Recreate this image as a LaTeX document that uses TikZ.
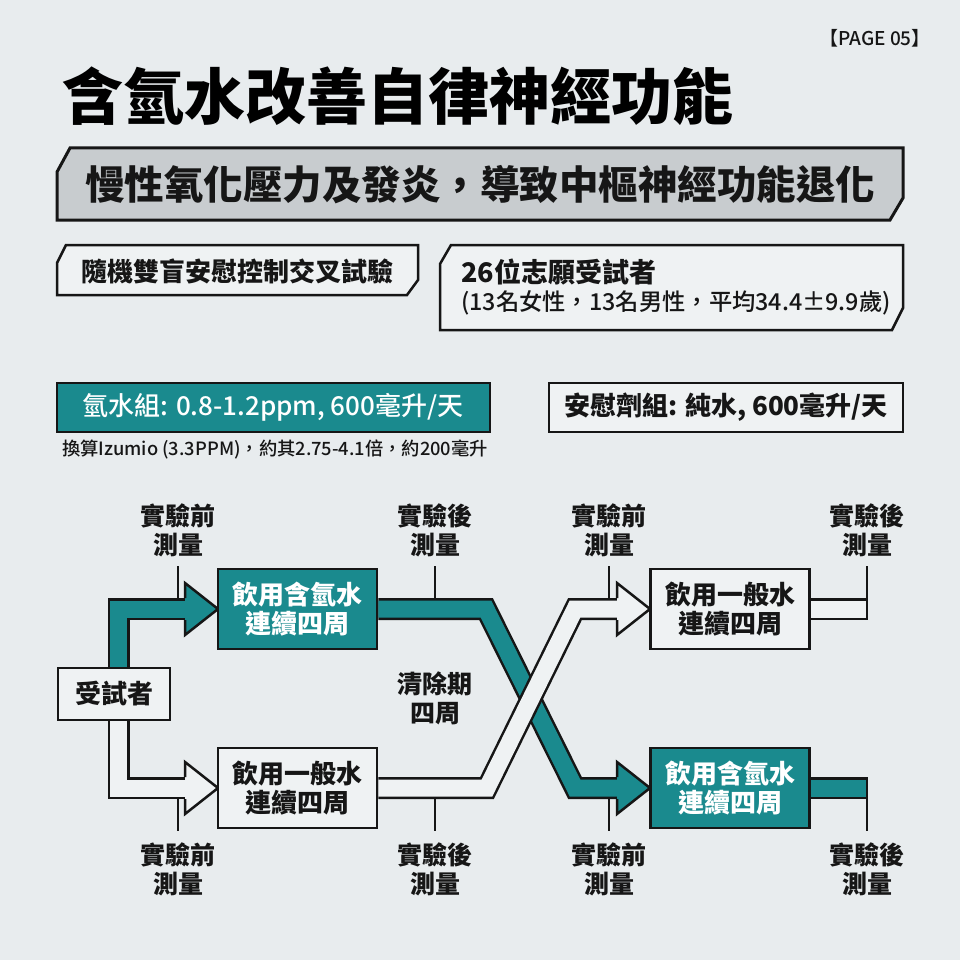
\documentclass[tikz,border=0pt]{standalone}
\usepackage{fontspec}
\setmainfont{Noto Sans CJK TC}
\newfontfamily\heavyfont{Noto Sans CJK TC Black}
\newfontfamily\medfont{Noto Sans CJK TC Medium}
\usetikzlibrary{calc}
\definecolor{bgc}{HTML}{E8ECEE}
\definecolor{tealc}{HTML}{1A8A8E}
\definecolor{ink}{HTML}{161616}
\definecolor{boxfill}{HTML}{EFF2F3}
\definecolor{subfill}{HTML}{C8CCCF}
\tikzset{
  outl/.style={draw=ink, line width=2.5pt, line join=miter},
  wbox/.style={outl, fill=boxfill, minimum width=159pt, minimum height=80pt, inner sep=0pt, align=center, text=ink, font=\bfseries\fontsize{26}{29}\selectfont},
  tbox/.style={wbox, fill=tealc, text=white},
  lbl/.style={align=center, inner sep=0pt, text=ink, font=\bfseries\fontsize{25}{29}\selectfont},
  tband/.style={draw=tealc, line width=17pt, line join=miter, preaction={draw=ink, line width=22pt, line join=miter}},
  wband/.style={draw=boxfill, line width=17pt, line join=miter, preaction={draw=ink, line width=22pt, line join=miter}},
  mline/.style={draw=ink, line width=2.5pt},
}
\begin{document}
\begin{tikzpicture}[x=1pt,y=-1pt]
\fill[bgc] (0,0) rectangle (960,960);
\useasboundingbox (0,0) rectangle (960,960);

% header
\node[anchor=east, inner sep=0pt, text=ink, font=\medfont\fontsize{19}{19}\selectfont] (page) at (931,38) {【PAGE 05】};
\node[anchor=west, inner sep=0pt, text=black, font=\heavyfont\fontsize{61}{61}\selectfont] (title) at (62,96) {含氫水改善自律神經功能};

% subtitle
\filldraw[outl, fill=subfill, line width=3pt] (57,220) -- (57,172) -- (70,148) -- (903,148) -- (903,198) -- (890,220) -- cycle;
\node[inner sep=0pt, text=ink, font=\heavyfont\fontsize{39.5}{40}\selectfont] (sub) at (480,185) {慢性氧化壓力及發炎，導致中樞神經功能退化};

% info boxes
\filldraw[outl, fill=boxfill] (57,295) -- (57,263) -- (66,245) -- (418,245) -- (418,280) -- (407,295) -- cycle;
\node[inner sep=0pt, text=ink, font=\bfseries\fontsize{26}{26}\selectfont] (rct) at (237.5,271) {隨機雙盲安慰控制交叉試驗};
\filldraw[outl, fill=boxfill] (440,330) -- (440,264) -- (451,245) -- (903,245) -- (903,308) -- (892,330) -- cycle;
\node[anchor=west, inner sep=0pt, text=ink, font=\bfseries\fontsize{27}{27}\selectfont] (n26) at (461,272) {26位志願受試者};
\node[anchor=west, inner sep=0pt, text=ink, font=\medfont\fontsize{23.3}{24}\selectfont] (n26b) at (461,303) {(13名女性，13名男性，平均34.4±9.9歲)};

% groups
\filldraw[outl, fill=tealc] (57,383) rectangle (490,432);
\node[inner sep=0pt, text=white, font=\medfont\fontsize{26}{26}\selectfont] (hgrp) at (273,407) {氫水組: 0.8-1.2ppm, 600毫升/天};
\filldraw[outl, fill=boxfill] (549,383) rectangle (903,432);
\node[inner sep=0pt, text=ink, font=\bfseries\fontsize{26}{26}\selectfont] (pgrp) at (726,407) {安慰劑組: 純水, 600毫升/天};
\node[anchor=west, inner sep=0pt, text=ink, font=\medfont\fontsize{18.3}{19}\selectfont] (note) at (62,450) {換算Izumio (3.3PPM)，約其2.75-4.1倍，約200毫升};

% boxes (positions)
\node[wbox, minimum width=112pt, minimum height=52pt] (subj) at (114,694) {受試者};
\node[tbox] (tl) at (297.5,609) {飲用含氫水\\連續四周};
\node[wbox] (bl) at (297.5,788) {飲用一般水\\連續四周};
\node[wbox] (tr) at (730,609) {飲用一般水\\連續四周};
\node[tbox] (br) at (730,788) {飲用含氫水\\連續四周};

% coordinates
\coordinate (h1) at (186,609);
\coordinate (h2) at (186,788);
\coordinate (h3) at (618,609);
\coordinate (h4) at (618,788);
\coordinate (k1) at (486,609);
\coordinate (k2) at (575,788);
\coordinate (k3) at (487,788);
\coordinate (k4) at (575,609);
\coordinate (e1) at (867,609);
\coordinate (e2) at (867,788);

% teal route
\draw[tband] ([xshift=4.5pt]subj.north) |- (h1);
\draw[tband] (tl.east) -- (k1) -- (k2) -- (h4);
\draw[tband] (br.east) -- (e2);
% white route
\draw[wband] ([xshift=4.5pt]subj.south) |- (h2);
\draw[wband] (bl.east) -- (k3) -- (k4) -- (h3);
\draw[wband] (tr.east) -- (e1);

% arrow heads
\fill[tealc] (185,583) -- (218,609) -- (185,635) -- cycle;
\draw[outl] (185,598) -- (185,583) -- (218,609) -- (185,635) -- (185,620);
\fill[boxfill] (185,762) -- (218,788) -- (185,814) -- cycle;
\draw[outl] (185,777) -- (185,762) -- (218,788) -- (185,814) -- (185,799);
\fill[boxfill] (617,583) -- (650,609) -- (617,635) -- cycle;
\draw[outl] (617,598) -- (617,583) -- (650,609) -- (617,635) -- (617,620);
\fill[tealc] (617,762) -- (650,788) -- (617,814) -- cycle;
\draw[outl] (617,777) -- (617,762) -- (650,788) -- (617,814) -- (617,799);

% redraw boxes on top
\node[wbox, minimum width=112pt, minimum height=52pt] at (subj) {受試者};
\node[tbox] at (tl) {飲用含氫水\\連續四周};
\node[wbox] at (bl) {飲用一般水\\連續四周};
\node[wbox] at (tr) {飲用一般水\\連續四周};
\node[tbox] at (br) {飲用含氫水\\連續四周};

% measurement labels
\node[lbl] (m1) at (178,530) {實驗前\\測量};
\node[lbl] (m2) at (435,530) {實驗後\\測量};
\node[lbl] (m3) at (609,530) {實驗前\\測量};
\node[lbl] (m4) at (867,530) {實驗後\\測量};
\node[lbl] (m5) at (178,869) {實驗前\\測量};
\node[lbl] (m6) at (435,869) {實驗後\\測量};
\node[lbl] (m7) at (609,869) {實驗前\\測量};
\node[lbl] (m8) at (867,869) {實驗後\\測量};
\node[lbl] (wash) at (435,698) {清除期\\四周};

% measurement lines
\draw[mline] (178,566) -- (178,598);
\draw[mline] (435,566) -- (435,598);
\draw[mline] (609,566) -- (609,598);
\draw[mline] (867,566) -- (867,620);
\draw[mline] (178,799) -- (178,831);
\draw[mline] (435,799) -- (435,831);
\draw[mline] (609,799) -- (609,831);
\draw[mline] (867,777) -- (867,831);
\end{tikzpicture}
\end{document}
